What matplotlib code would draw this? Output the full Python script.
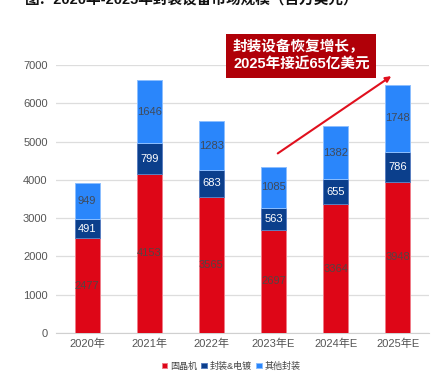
import numpy as np
import matplotlib.pyplot as plt

plt.rcParams['font.family'] = ['Liberation Sans', 'Noto Sans CJK SC', 'DejaVu Sans']

years = ['2020年', '2021年', '2022年', '2023年E', '2024年E', '2025年E']
gujing = [2477, 4153, 3565, 2697, 3364, 3948]
fengzhuang = [491, 799, 683, 563, 655, 786]
qita = [949, 1646, 1283, 1085, 1382, 1748]

c_red = '#DE0617'
c_navy = '#0B3F8C'
c_blue = '#2A86FB'

fig = plt.figure(figsize=(4.45, 3.89), dpi=100)
ax = fig.add_axes([56/445, 56/389, 373/445, 268/389])

x = np.arange(len(years))
w = 0.4
b1 = ax.bar(x, gujing, w, color=c_red, edgecolor='#F07C88', linewidth=0.7, label='固晶机', zorder=3)
bot2 = np.array(gujing)
b2 = ax.bar(x, fengzhuang, w, bottom=bot2, color=c_navy, edgecolor='#5A7FBF', linewidth=0.7,
            label='封装&电镀', zorder=3)
bot3 = bot2 + np.array(fengzhuang)
b3 = ax.bar(x, qita, w, bottom=bot3, color=c_blue, edgecolor='#8CBEFF', linewidth=0.7,
            label='其他封装', zorder=3)

for i in range(len(years)):
    ax.text(x[i], gujing[i] / 2, str(gujing[i]), ha='center', va='center', fontsize=8, color='#554444', zorder=4)
    ax.text(x[i], bot2[i] + fengzhuang[i] / 2, str(fengzhuang[i]), ha='center', va='center', fontsize=8,
            color='white', zorder=4)
    ax.text(x[i], bot3[i] + qita[i] / 2, str(qita[i]), ha='center', va='center', fontsize=8,
            color='#404a5a', zorder=4)

ax.set_xlim(-0.5, len(years) - 0.5)
ax.set_ylim(0, 7000)
ax.set_yticks(range(0, 7001, 1000))
ax.set_xticks(x)
ax.set_xticklabels(years)
ax.tick_params(axis='both', length=0, labelsize=8, colors='#555555')
ax.tick_params(axis='y', pad=6)
ax.tick_params(axis='x', pad=4)
ax.grid(axis='y', color='#dddddd', linewidth=0.9, zorder=0)
for s in ['top', 'right', 'left']:
    ax.spines[s].set_visible(False)
ax.spines['bottom'].set_color('#d0d0d0')

# arrow
ax.annotate('', xy=(4.93, 6750), xytext=(3.03, 4650),
            arrowprops=dict(arrowstyle='-|>', color='#E0101E', lw=1.5, mutation_scale=8), zorder=5)

fig.text(233/445, 1 - 56/389, '封装设备恢复增长，\n2025年接近65亿美元', ha='left', va='center',
         fontsize=10.5, fontweight='bold', color='white', linespacing=1.3,
         bbox=dict(boxstyle='square,pad=0.45', facecolor='#B00008', edgecolor='none'))

fig.text(25/445, 1.0, '图：2020年-2025年封装设备市场规模（百万美元）', ha='left', va='center',
         fontsize=10.5, fontweight='bold', color='#111111')

fig.legend(handles=[b1, b2, b3], loc='center', bbox_to_anchor=(231/445, 1 - 366/389), ncol=3,
           frameon=False, fontsize=6.5, handlelength=0.6, handleheight=0.6, handletextpad=0.3,
           columnspacing=0.5, labelcolor='#444444')

fig.savefig('out.png', dpi=100)
